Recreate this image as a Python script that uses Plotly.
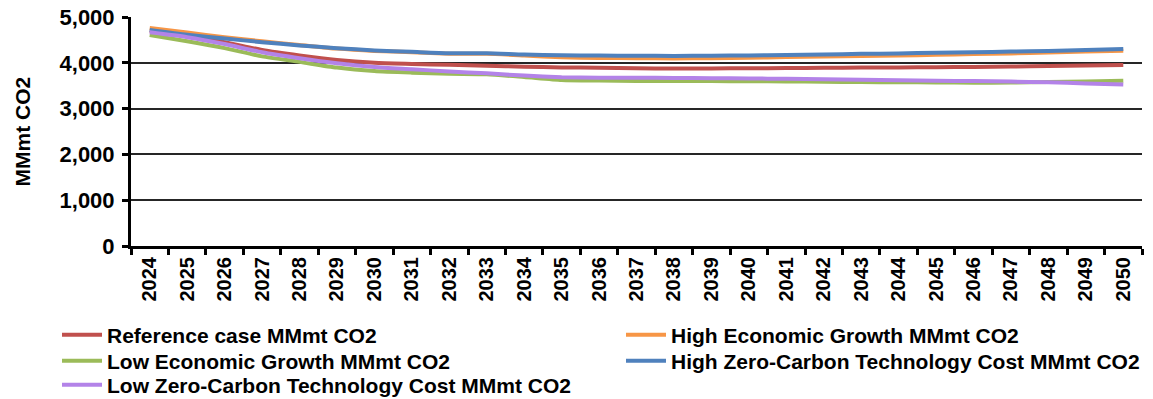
import plotly.graph_objects as go

years = [str(y) for y in range(2024, 2051)]

reference_case = [4700, 4590, 4450, 4280, 4160, 4060, 4000, 3975, 3955, 3935, 3915, 3900, 3890,
                  3880, 3877, 3877, 3880, 3884, 3890, 3895, 3900, 3905, 3910, 3920, 3930, 3940, 3950]
high_econ_growth = [4760, 4660, 4560, 4470, 4390, 4310, 4260, 4230, 4200, 4195, 4160, 4120, 4105,
                    4100, 4096, 4100, 4110, 4125, 4135, 4150, 4160, 4175, 4190, 4205, 4225, 4245, 4263]
low_econ_growth = [4605, 4470, 4320, 4140, 4020, 3895, 3820, 3785, 3760, 3748, 3690, 3625, 3612,
                   3605, 3600, 3600, 3597, 3593, 3585, 3580, 3575, 3571, 3565, 3570, 3580, 3592, 3606]
high_zc_cost = [4715, 4610, 4530, 4450, 4380, 4320, 4270, 4240, 4210, 4210, 4180, 4165, 4158,
                4155, 4150, 4155, 4160, 4172, 4180, 4195, 4205, 4218, 4230, 4245, 4260, 4280, 4300]
low_zc_cost = [4665, 4560, 4410, 4230, 4100, 3990, 3910, 3860, 3810, 3770, 3720, 3685, 3675,
               3672, 3670, 3665, 3658, 3650, 3640, 3630, 3620, 3607, 3600, 3590, 3575, 3550, 3527]

series_names = [
    "Reference case MMmt CO2",
    "High Economic Growth MMmt CO2",
    "Low Economic Growth MMmt CO2",
    "High Zero-Carbon Technology Cost MMmt CO2",
    "Low Zero-Carbon Technology Cost MMmt CO2",
]
series_values = [reference_case, high_econ_growth, low_econ_growth, high_zc_cost, low_zc_cost]
series_colors = ["#C0504D", "#F79646", "#9BBB59", "#4F81BD", "#B383E8"]

y_title = "MMmt CO2"

# legend grid: two columns, three rows (position of each entry in pixels)
legend_cells = [(57, 335), (621, 335), (57, 361), (621, 361), (57, 385)]

FONT = "Liberation Sans, Arial, sans-serif"
W, H = 1153, 399
M_L, M_R, M_T, M_B = 131, 11, 17, 153
plot_w = W - M_L - M_R

fig = go.Figure()
legend_layouts = {}
for i, (name, vals, color) in enumerate(zip(series_names, series_values, series_colors)):
    key = "legend" if i == 0 else f"legend{i + 1}"
    fig.add_trace(go.Scatter(
        x=years, y=vals, name=name, mode="lines",
        line=dict(color=color, width=4, shape="spline", smoothing=0.6),
        legend=key,
    ))
    lx, ly = legend_cells[i]
    legend_layouts[key] = dict(
        xref="container", yref="container",
        x=lx / W, y=1 - ly / H, xanchor="left", yanchor="middle",
        bgcolor="rgba(0,0,0,0)", borderwidth=0,
        itemwidth=40,
        font=dict(family=FONT, size=21, color="black", weight="bold"),
    )

fig.update_layout(
    width=W, height=H,
    margin=dict(l=M_L, r=M_R, t=M_T, b=M_B, autoexpand=False),
    paper_bgcolor="white", plot_bgcolor="white",
    showlegend=True,
    font=dict(family=FONT, size=21, color="black", weight="bold"),
    xaxis=dict(
        type="category", range=[-0.5, 26.5],
        tickson="boundaries", ticks="outside", ticklen=6, tickwidth=3, tickcolor="black",
        showline=True, linecolor="black", linewidth=3,
        tickangle=-90, tickfont=dict(family=FONT, size=20, weight="bold"),
        showgrid=False,
    ),
    yaxis=dict(
        range=[0, 5000], tickvals=[0, 1000, 2000, 3000, 4000, 5000],
        tickformat=",d",
        ticks="outside", ticklen=6, tickwidth=3, tickcolor="black",
        showline=True, linecolor="black", linewidth=3,
        showgrid=True, gridcolor="#262626", gridwidth=1.5,
        zeroline=False,
        ticklabelstandoff=3,
        tickfont=dict(family=FONT, size=22, weight="bold"),
    ),
    annotations=[dict(
        text=y_title, textangle=-90,
        xref="paper", yref="paper", x=(22 - M_L) / plot_w, y=0.5,
        xanchor="center", yanchor="middle", showarrow=False,
        font=dict(family=FONT, size=21, color="black", weight="bold"),
    )],
    **legend_layouts,
)

fig.write_html("out.html")
